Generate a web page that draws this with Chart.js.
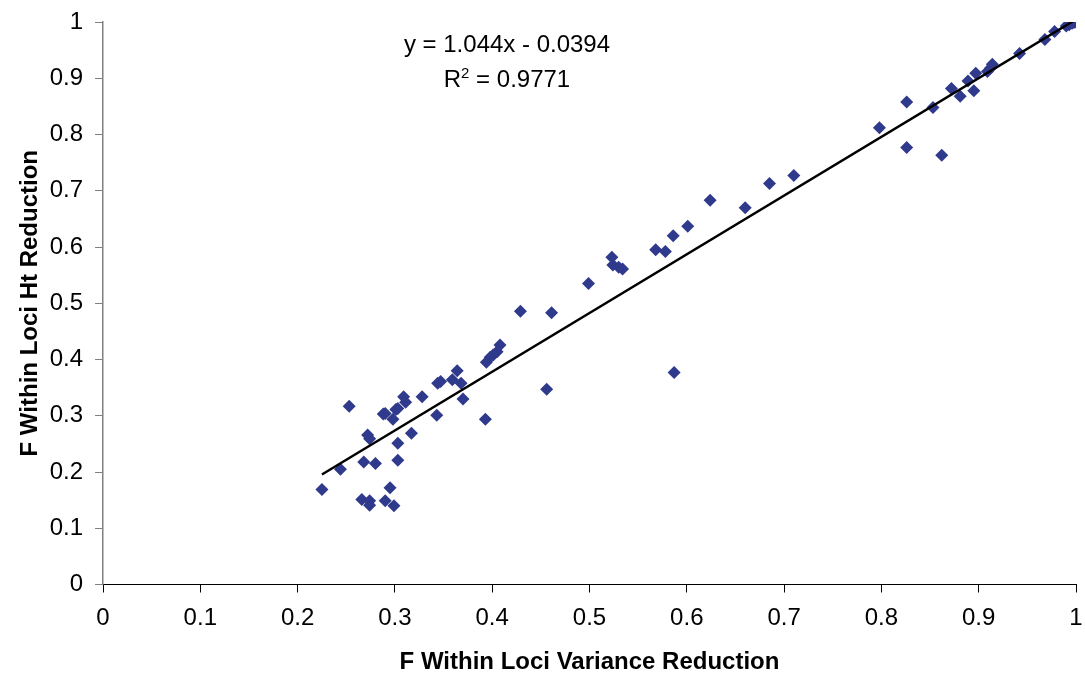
<!DOCTYPE html>
<html>
<head>
<meta charset="utf-8">
<script src="https://cdn.jsdelivr.net/npm/chart.js@4.4.1/dist/chart.umd.min.js"></script>
<style>
  html, body { margin: 0; padding: 0; background: #ffffff; }
  #wrap { width: 1085px; height: 679px; position: relative; }
</style>
</head>
<body>
<div id="wrap"><canvas id="c" width="1085" height="679"></canvas></div>
<script>
// ---- Data ----
const varianceReduction = [
  0.225, 0.244, 0.253, 0.266, 0.268, 0.272, 0.274, 0.274, 0.274, 0.280,
  0.288, 0.290, 0.290, 0.295, 0.298, 0.299, 0.301, 0.303, 0.303, 0.303,
  0.309, 0.311, 0.317, 0.328, 0.343, 0.344, 0.347, 0.359, 0.364, 0.368,
  0.370, 0.393, 0.394, 0.398, 0.401, 0.405, 0.408, 0.429, 0.456, 0.461,
  0.499, 0.523, 0.524, 0.530, 0.534, 0.568, 0.578, 0.586, 0.587, 0.601,
  0.624, 0.660, 0.685, 0.710, 0.798, 0.826, 0.826, 0.853, 0.862, 0.872,
  0.881, 0.889, 0.895, 0.897, 0.909, 0.912, 0.914, 0.942, 0.968, 0.978,
  0.990, 0.993, 0.996, 0.998, 1.000
];
const htReduction = [
  0.169, 0.205, 0.317, 0.151, 0.218, 0.266, 0.259, 0.149, 0.141, 0.215,
  0.303, 0.304, 0.149, 0.172, 0.294, 0.140, 0.311, 0.313, 0.251, 0.221,
  0.334, 0.324, 0.269, 0.334, 0.301, 0.358, 0.361, 0.364, 0.380, 0.358,
  0.330, 0.294, 0.395, 0.404, 0.408, 0.414, 0.426, 0.486, 0.347, 0.483,
  0.535, 0.582, 0.568, 0.564, 0.561, 0.595, 0.592, 0.620, 0.377, 0.637,
  0.683, 0.670, 0.713, 0.727, 0.812, 0.858, 0.777, 0.848, 0.763, 0.882,
  0.868, 0.895, 0.878, 0.909, 0.912, 0.918, 0.925, 0.944, 0.969, 0.983,
  0.993, 0.995, 0.998, 0.999, 1.000
];
// Linear trendline shown in the reference
const trendSlope = 1.044;
const trendIntercept = -0.0394;
const trendRange = [0.225, 1.0];
const equationText = 'y = 1.044x - 0.0394';
const r2Label = 'R';
const r2Sup = '2';
const r2Value = ' = 0.9771';
const xTicks = [0, 0.1, 0.2, 0.3, 0.4, 0.5, 0.6, 0.7, 0.8, 0.9, 1];
const yTicks = [0, 0.1, 0.2, 0.3, 0.4, 0.5, 0.6, 0.7, 0.8, 0.9, 1];
const xTitle = 'F Within Loci Variance Reduction';
const yTitle = 'F Within Loci Ht Reduction';

// ---- Build chart ----
const points = varianceReduction.map((x, i) => ({ x: x, y: htReduction[i] }));
const trend = trendRange.map(x => ({ x: x, y: trendSlope * x + trendIntercept }));

const FONT = '"Liberation Sans", Arial, sans-serif';
const markerColor = '#2f3a8c';

const equationPlugin = {
  id: 'equation',
  afterDatasetsDraw(chart) {
    const ctx = chart.ctx;
    const ca = chart.chartArea;
    const cx = ca.left + (ca.right - ca.left) * 0.4152;
    ctx.save();
    ctx.fillStyle = '#000000';
    ctx.font = '24px ' + FONT;
    ctx.textAlign = 'center';
    ctx.textBaseline = 'alphabetic';
    ctx.fillText(equationText, cx, ca.top + 29.5);
    // R^2 line
    const supFont = '15px ' + FONT;
    ctx.font = '24px ' + FONT;
    const wR = ctx.measureText(r2Label).width;
    const wV = ctx.measureText(r2Value).width;
    ctx.font = supFont;
    const wS = ctx.measureText(r2Sup).width;
    const total = wR + wS + wV;
    let x0 = cx - total / 2;
    const by = ca.top + 65;
    ctx.textAlign = 'left';
    ctx.font = '24px ' + FONT;
    ctx.fillText(r2Label, x0, by);
    ctx.font = supFont;
    ctx.fillText(r2Sup, x0 + wR, by - 9);
    ctx.font = '24px ' + FONT;
    ctx.fillText(r2Value, x0 + wR + wS, by);
    ctx.restore();
  }
};

new Chart(document.getElementById('c'), {
  type: 'scatter',
  data: {
    datasets: [
      {
        type: 'line',
        data: trend,
        borderColor: '#000000',
        borderWidth: 2.5,
        pointRadius: 0,
        fill: false,
        order: 0
      },
      {
        type: 'scatter',
        data: points,
        pointStyle: 'rectRot',
        pointRadius: 6.5,
        pointBackgroundColor: markerColor,
        pointBorderColor: markerColor,
        pointBorderWidth: 0,
        order: 1
      }
    ]
  },
  options: {
    responsive: false,
    animation: false,
    devicePixelRatio: 1,
    layout: { padding: { top: 22, right: 9, bottom: 0, left: 0 } },
    plugins: { legend: { display: false }, tooltip: { enabled: false } },
    scales: {
      x: {
        type: 'linear',
        min: 0, max: 1,
        afterBuildTicks: (s) => { s.ticks = xTicks.map(v => ({ value: v })); },
        afterFit: (s) => { s.height = 94.5; s.paddingLeft = 0; s.paddingRight = 0; },
        ticks: {
          color: '#000000',
          font: { family: FONT, size: 24 },
          padding: 11,
          maxRotation: 0,
          callback: (v) => String(v)
        },
        grid: { drawOnChartArea: false, drawTicks: true, tickLength: 8, color: '#000000', lineWidth: 1 },
        border: { display: true, color: '#000000', width: 1 },
        title: {
          display: true, text: xTitle, color: '#000000',
          font: { family: FONT, size: 24, weight: 'bold' },
          padding: { top: 0, bottom: 2 }
        }
      },
      y: {
        type: 'linear',
        min: 0, max: 1,
        afterBuildTicks: (s) => { s.ticks = yTicks.map(v => ({ value: v })); },
        afterFit: (s) => { s.width = 103; s.paddingTop = 0; s.paddingBottom = 0; },
        ticks: {
          color: '#000000',
          font: { family: FONT, size: 24 },
          padding: 12,
          callback: (v) => String(v)
        },
        grid: { drawOnChartArea: false, drawTicks: true, tickLength: 8, color: '#808080', lineWidth: 1 },
        border: { display: true, color: '#808080', width: 1.5 },
        title: {
          display: true, text: yTitle, color: '#000000',
          font: { family: FONT, size: 24, weight: 'bold' },
          padding: { top: 16, bottom: 0 }
        }
      }
    }
  },
  plugins: [equationPlugin]
});
</script>
</body>
</html>
